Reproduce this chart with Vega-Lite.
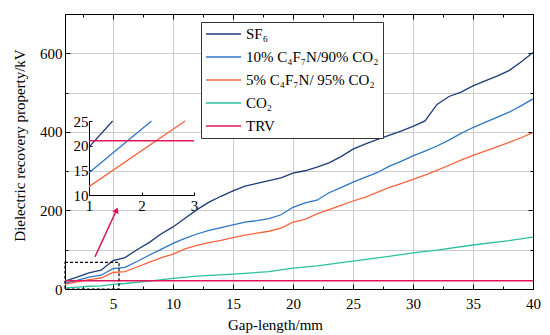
{
  "$schema": "https://vega.github.io/schema/vega-lite/v6.json",
  "width": 468,
  "height": 275,
  "autosize": {"type": "none"},
  "padding": {"left": 65, "top": 14, "right": 17, "bottom": 46},
  "config": {
    "font": "Liberation Serif",
    "view": {"stroke": "black", "strokeWidth": 1},
    "axis": {
      "labelFont": "Liberation Serif", "labelFontSize": 15, "labelColor": "black",
      "titleFont": "Liberation Serif", "titleFontSize": 15, "titleFontWeight": "normal", "titleColor": "black",
      "domainColor": "black", "tickColor": "black", "gridColor": "#cccccc", "gridWidth": 1
    }
  },
  "datasets": {
    "main": [
      {"x":1,"y":20,"s":"SF₆"},{"x":2,"y":30,"s":"SF₆"},{"x":3,"y":41,"s":"SF₆"},{"x":4,"y":48,"s":"SF₆"},{"x":5,"y":72,"s":"SF₆"},{"x":6,"y":80,"s":"SF₆"},{"x":7,"y":100,"s":"SF₆"},{"x":8,"y":118,"s":"SF₆"},{"x":9,"y":140,"s":"SF₆"},{"x":10,"y":158,"s":"SF₆"},{"x":11,"y":180,"s":"SF₆"},{"x":12,"y":202,"s":"SF₆"},{"x":13,"y":221,"s":"SF₆"},{"x":14,"y":236,"s":"SF₆"},{"x":15,"y":250,"s":"SF₆"},{"x":16,"y":262,"s":"SF₆"},{"x":17,"y":269,"s":"SF₆"},{"x":18,"y":276,"s":"SF₆"},{"x":19,"y":283,"s":"SF₆"},{"x":20,"y":295,"s":"SF₆"},{"x":21,"y":301,"s":"SF₆"},{"x":22,"y":310,"s":"SF₆"},{"x":23,"y":321,"s":"SF₆"},{"x":24,"y":337,"s":"SF₆"},{"x":25,"y":356,"s":"SF₆"},{"x":26,"y":369,"s":"SF₆"},{"x":27,"y":380,"s":"SF₆"},{"x":28,"y":391,"s":"SF₆"},{"x":29,"y":402,"s":"SF₆"},{"x":30,"y":414,"s":"SF₆"},{"x":31,"y":428,"s":"SF₆"},{"x":32,"y":470,"s":"SF₆"},{"x":33,"y":490,"s":"SF₆"},{"x":34,"y":501,"s":"SF₆"},{"x":35,"y":517,"s":"SF₆"},{"x":36,"y":530,"s":"SF₆"},{"x":37,"y":542,"s":"SF₆"},{"x":38,"y":556,"s":"SF₆"},{"x":39,"y":578,"s":"SF₆"},{"x":40,"y":602,"s":"SF₆"},
      {"x":1,"y":15,"s":"10% C₄F₇N/90% CO₂"},{"x":2,"y":22,"s":"10% C₄F₇N/90% CO₂"},{"x":3,"y":30,"s":"10% C₄F₇N/90% CO₂"},{"x":4,"y":35,"s":"10% C₄F₇N/90% CO₂"},{"x":5,"y":52,"s":"10% C₄F₇N/90% CO₂"},{"x":6,"y":55,"s":"10% C₄F₇N/90% CO₂"},{"x":7,"y":70,"s":"10% C₄F₇N/90% CO₂"},{"x":8,"y":86,"s":"10% C₄F₇N/90% CO₂"},{"x":9,"y":101,"s":"10% C₄F₇N/90% CO₂"},{"x":10,"y":116,"s":"10% C₄F₇N/90% CO₂"},{"x":11,"y":129,"s":"10% C₄F₇N/90% CO₂"},{"x":12,"y":140,"s":"10% C₄F₇N/90% CO₂"},{"x":13,"y":149,"s":"10% C₄F₇N/90% CO₂"},{"x":14,"y":156,"s":"10% C₄F₇N/90% CO₂"},{"x":15,"y":163,"s":"10% C₄F₇N/90% CO₂"},{"x":16,"y":170,"s":"10% C₄F₇N/90% CO₂"},{"x":17,"y":174,"s":"10% C₄F₇N/90% CO₂"},{"x":18,"y":179,"s":"10% C₄F₇N/90% CO₂"},{"x":19,"y":189,"s":"10% C₄F₇N/90% CO₂"},{"x":20,"y":208,"s":"10% C₄F₇N/90% CO₂"},{"x":21,"y":219,"s":"10% C₄F₇N/90% CO₂"},{"x":22,"y":226,"s":"10% C₄F₇N/90% CO₂"},{"x":23,"y":245,"s":"10% C₄F₇N/90% CO₂"},{"x":24,"y":258,"s":"10% C₄F₇N/90% CO₂"},{"x":25,"y":272,"s":"10% C₄F₇N/90% CO₂"},{"x":26,"y":284,"s":"10% C₄F₇N/90% CO₂"},{"x":27,"y":296,"s":"10% C₄F₇N/90% CO₂"},{"x":28,"y":312,"s":"10% C₄F₇N/90% CO₂"},{"x":29,"y":325,"s":"10% C₄F₇N/90% CO₂"},{"x":30,"y":339,"s":"10% C₄F₇N/90% CO₂"},{"x":31,"y":351,"s":"10% C₄F₇N/90% CO₂"},{"x":32,"y":364,"s":"10% C₄F₇N/90% CO₂"},{"x":33,"y":379,"s":"10% C₄F₇N/90% CO₂"},{"x":34,"y":396,"s":"10% C₄F₇N/90% CO₂"},{"x":35,"y":411,"s":"10% C₄F₇N/90% CO₂"},{"x":36,"y":424,"s":"10% C₄F₇N/90% CO₂"},{"x":37,"y":437,"s":"10% C₄F₇N/90% CO₂"},{"x":38,"y":450,"s":"10% C₄F₇N/90% CO₂"},{"x":39,"y":466,"s":"10% C₄F₇N/90% CO₂"},{"x":40,"y":484,"s":"10% C₄F₇N/90% CO₂"},
      {"x":1,"y":12,"s":"5% C₄F₇N/ 95% CO₂"},{"x":2,"y":18,"s":"5% C₄F₇N/ 95% CO₂"},{"x":3,"y":24,"s":"5% C₄F₇N/ 95% CO₂"},{"x":4,"y":28,"s":"5% C₄F₇N/ 95% CO₂"},{"x":5,"y":42,"s":"5% C₄F₇N/ 95% CO₂"},{"x":6,"y":44,"s":"5% C₄F₇N/ 95% CO₂"},{"x":7,"y":56,"s":"5% C₄F₇N/ 95% CO₂"},{"x":8,"y":68,"s":"5% C₄F₇N/ 95% CO₂"},{"x":9,"y":79,"s":"5% C₄F₇N/ 95% CO₂"},{"x":10,"y":89,"s":"5% C₄F₇N/ 95% CO₂"},{"x":11,"y":102,"s":"5% C₄F₇N/ 95% CO₂"},{"x":12,"y":111,"s":"5% C₄F₇N/ 95% CO₂"},{"x":13,"y":118,"s":"5% C₄F₇N/ 95% CO₂"},{"x":14,"y":124,"s":"5% C₄F₇N/ 95% CO₂"},{"x":15,"y":131,"s":"5% C₄F₇N/ 95% CO₂"},{"x":16,"y":137,"s":"5% C₄F₇N/ 95% CO₂"},{"x":17,"y":142,"s":"5% C₄F₇N/ 95% CO₂"},{"x":18,"y":147,"s":"5% C₄F₇N/ 95% CO₂"},{"x":19,"y":155,"s":"5% C₄F₇N/ 95% CO₂"},{"x":20,"y":170,"s":"5% C₄F₇N/ 95% CO₂"},{"x":21,"y":177,"s":"5% C₄F₇N/ 95% CO₂"},{"x":22,"y":191,"s":"5% C₄F₇N/ 95% CO₂"},{"x":23,"y":202,"s":"5% C₄F₇N/ 95% CO₂"},{"x":24,"y":213,"s":"5% C₄F₇N/ 95% CO₂"},{"x":25,"y":224,"s":"5% C₄F₇N/ 95% CO₂"},{"x":26,"y":233,"s":"5% C₄F₇N/ 95% CO₂"},{"x":27,"y":246,"s":"5% C₄F₇N/ 95% CO₂"},{"x":28,"y":258,"s":"5% C₄F₇N/ 95% CO₂"},{"x":29,"y":268,"s":"5% C₄F₇N/ 95% CO₂"},{"x":30,"y":279,"s":"5% C₄F₇N/ 95% CO₂"},{"x":31,"y":290,"s":"5% C₄F₇N/ 95% CO₂"},{"x":32,"y":302,"s":"5% C₄F₇N/ 95% CO₂"},{"x":33,"y":315,"s":"5% C₄F₇N/ 95% CO₂"},{"x":34,"y":328,"s":"5% C₄F₇N/ 95% CO₂"},{"x":35,"y":340,"s":"5% C₄F₇N/ 95% CO₂"},{"x":36,"y":351,"s":"5% C₄F₇N/ 95% CO₂"},{"x":37,"y":362,"s":"5% C₄F₇N/ 95% CO₂"},{"x":38,"y":373,"s":"5% C₄F₇N/ 95% CO₂"},{"x":39,"y":385,"s":"5% C₄F₇N/ 95% CO₂"},{"x":40,"y":398,"s":"5% C₄F₇N/ 95% CO₂"},
      {"x":1,"y":3,"s":"CO₂"},{"x":2,"y":5,"s":"CO₂"},{"x":3,"y":7,"s":"CO₂"},{"x":4,"y":8,"s":"CO₂"},{"x":5,"y":12,"s":"CO₂"},{"x":6,"y":14,"s":"CO₂"},{"x":8,"y":20,"s":"CO₂"},{"x":10,"y":27,"s":"CO₂"},{"x":12,"y":33,"s":"CO₂"},{"x":15,"y":38,"s":"CO₂"},{"x":18,"y":44,"s":"CO₂"},{"x":20,"y":53,"s":"CO₂"},{"x":22,"y":59,"s":"CO₂"},{"x":25,"y":71,"s":"CO₂"},{"x":28,"y":83,"s":"CO₂"},{"x":30,"y":92,"s":"CO₂"},{"x":32,"y":99,"s":"CO₂"},{"x":35,"y":112,"s":"CO₂"},{"x":38,"y":123,"s":"CO₂"},{"x":40,"y":132,"s":"CO₂"},
      {"x":1,"y":21,"s":"TRV"},{"x":40,"y":21,"s":"TRV"}
    ],
    "inset": [
      {"x":1,"y":19.7,"s":"SF₆"},{"x":1.45,"y":25,"s":"SF₆"},
      {"x":1,"y":14.5,"s":"10% C₄F₇N/90% CO₂"},{"x":2.19,"y":25,"s":"10% C₄F₇N/90% CO₂"},
      {"x":1,"y":11.7,"s":"5% C₄F₇N/ 95% CO₂"},{"x":2.83,"y":25,"s":"5% C₄F₇N/ 95% CO₂"},
      {"x":1,"y":21,"s":"TRV"},{"x":3,"y":21,"s":"TRV"}
    ],
    "box": [{"x":1,"x2":5.5,"y":0,"y2":68}],
    "arrow": [{"x":3.5,"y":82},{"x":5.25,"y":198}],
    "head": [{"x":5.3,"y":201}]
  },
  "resolve": {"scale": {"x": "independent", "y": "independent"}},
  "layer": [
    {
      "encoding": {
        "x": {"field": "x", "type": "quantitative", "scale": {"domain": [1, 40], "nice": false, "zero": false},
          "axis": {"orient": "bottom", "title": "Gap-length/mm", "values": [2.5,5,7.5,10,12.5,15,17.5,20,22.5,25,27.5,30,32.5,35,37.5,40],
            "labelExpr": "datum.value % 5 === 0 ? datum.label : ''",
            "gridOpacity": {"condition": {"test": "datum.value % 5 !== 0", "value": 0}, "value": 1},
            "tickSize": {"condition": {"test": "datum.value % 5 !== 0", "value": -3}, "value": -5},
            "labelPadding": 12, "labelFlush": false, "labelOverlap": false, "titleX": 210, "titlePadding": 4, "grid": true}},
        "y": {"field": "y", "type": "quantitative", "scale": {"domain": [0, 700], "nice": false},
          "axis": {"orient": "left", "title": "Dielectric recovery property/kV", "values": [0,100,200,300,400,500,600,700],
            "labelExpr": "datum.value % 200 === 0 ? datum.label : ''",
            "tickSize": {"condition": {"test": "datum.value % 200 !== 0", "value": -3}, "value": -5},
            "labelPadding": 8, "titlePadding": 12, "titleY": 131, "grid": true, "labelFlush": false, "labelOverlap": false}}
      },
      "layer": [
        {
          "data": {"name": "main"},
          "mark": {"type": "line", "strokeWidth": 1.3},
          "encoding": {
            "color": {"field": "s", "type": "nominal",
              "scale": {"domain": ["SF₆", "10% C₄F₇N/90% CO₂", "5% C₄F₇N/ 95% CO₂", "CO₂", "TRV"],
                        "range": ["#1d3c78", "#2e75c5", "#f9643f", "#2dc0a0", "#e3155a"]},
              "legend": {"orient": "none", "legendX": 136, "legendY": 8, "title": null,
                "strokeColor": "#333333", "fillColor": "white", "padding": 4, "cornerRadius": 0,
                "symbolType": "M-2.5,0L2.5,0", "symbolSize": 196, "symbolStrokeWidth": 1.6, "symbolOffset": 10.5,
                "labelFont": "Liberation Serif", "labelFontSize": 15, "labelColor": "black", "labelLimit": 300,
                "labelOffset": 14.5, "rowPadding": 7}}
          }
        },
        {
          "data": {"name": "box"},
          "mark": {"type": "rect", "fill": null, "stroke": "black", "strokeWidth": 1.2, "strokeDash": [3, 2]},
          "encoding": {"x2": {"field": "x2"}, "y2": {"field": "y2"}}
        },
        {
          "data": {"name": "arrow"},
          "mark": {"type": "line", "color": "#d6174f", "strokeWidth": 1.5},
          "encoding": {}
        },
        {
          "data": {"name": "head"},
          "mark": {"type": "point", "shape": "triangle-up", "angle": 24, "size": 45, "filled": true, "color": "#d6174f", "opacity": 1},
          "encoding": {}
        }
      ]
    },
    {
      "data": {"name": "main"},
      "mark": {"type": "point", "opacity": 0},
      "encoding": {
        "x": {"field": "x", "type": "quantitative", "scale": {"domain": [1, 40], "nice": false, "zero": false},
          "axis": {"orient": "top", "title": null, "labels": false, "grid": false,
            "values": [2.5,5,7.5,10,12.5,15,17.5,20,22.5,25,27.5,30,32.5,35,37.5,40],
            "tickSize": {"condition": {"test": "datum.value % 5 !== 0", "value": -3}, "value": -5}}},
        "y": {"field": "y", "type": "quantitative", "scale": {"domain": [0, 700], "nice": false},
          "axis": {"orient": "right", "title": null, "labels": false, "grid": false,
            "values": [0,100,200,300,400,500,600,700],
            "tickSize": {"condition": {"test": "datum.value % 200 !== 0", "value": -3}, "value": -5}}}
      }
    },
    {
      "data": {"name": "inset"},
      "mark": {"type": "line", "strokeWidth": 1.3},
      "encoding": {
        "x": {"field": "x", "type": "quantitative", "scale": {"domain": [1, 3], "range": [24, 129], "nice": false, "zero": false},
          "axis": {"orient": "bottom", "offset": -94, "title": null, "values": [1, 2, 3], "format": "~g", "grid": false,
            "tickSize": -3, "labelPadding": 6, "labelFlush": false, "labelOverlap": false}},
        "y": {"field": "y", "type": "quantitative", "scale": {"domain": [10, 25], "range": [181, 107], "nice": false, "zero": false},
          "axis": {"orient": "left", "offset": -24, "title": null, "values": [10, 15, 20, 25], "format": "~g", "grid": false,
            "tickSize": -3, "labelPadding": 4, "labelFlush": false, "labelOverlap": false}},
        "color": {"field": "s", "type": "nominal",
          "scale": {"domain": ["SF₆", "10% C₄F₇N/90% CO₂", "5% C₄F₇N/ 95% CO₂", "CO₂", "TRV"],
                    "range": ["#1d3c78", "#2e75c5", "#f9643f", "#2dc0a0", "#e3155a"]},
          "legend": null}
      }
    }
  ]
}
